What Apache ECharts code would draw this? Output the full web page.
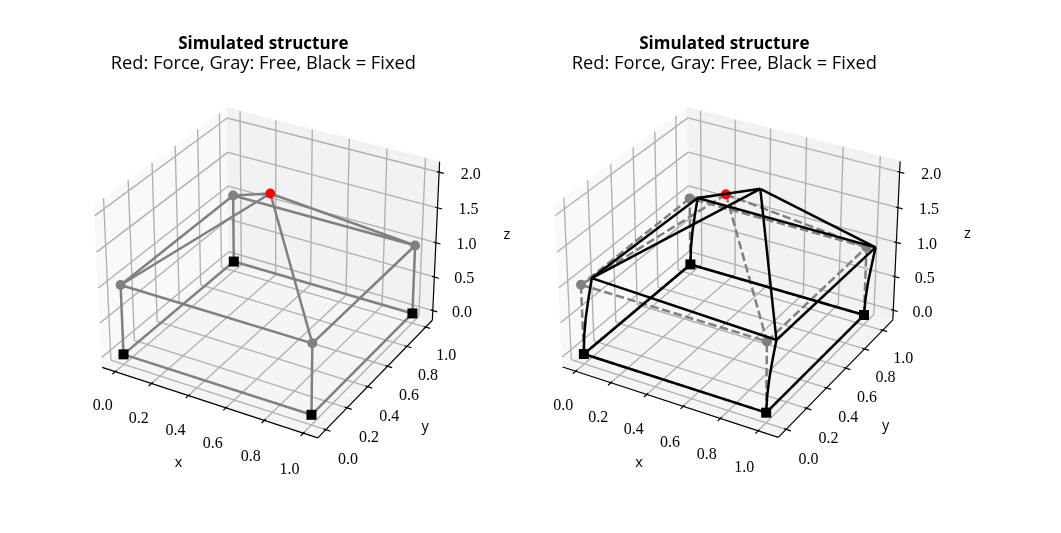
<!DOCTYPE html>
<html><head><meta charset="utf-8">
<style>html,body{margin:0;padding:0;background:#fff}#c{width:1061px;height:533px}</style>
<script src="https://cdn.jsdelivr.net/npm/echarts@6/dist/echarts.min.js"></script>
</head><body><div id="c"></div>
<script>
// ---- data ----
const xTicks=[0,0.2,0.4,0.6,0.8,1.0];
const yTicks=[0,0.2,0.4,0.6,0.8,1.0];
const zTicks=[0,0.5,1.0,1.5,2.0];
const xTickLabels=['0.0','0.2','0.4','0.6','0.8','1.0'];
const yTickLabels=['0.0','0.2','0.4','0.6','0.8','1.0'];
const zTickLabels=['0.0','0.5','1.0','1.5','2.0'];
const refX=[0,1,1,0,0,1,1,0,0.5];
const refY=[0,0,1,1,0,0,1,1,0.5];
const refZ=[0,0,0,0,1,1,1,1,2];
const defX=[0,1,1,0,0.008,1.0314,1.036,0.033,0.6126];
const defY=[0,0,1,1,0.0805,0.0317,1.026,1.024,0.6295];
const defZ=[0,0,0,0,0.995,1,0.99,1,2];
const beams=[[0,1],[1,2],[2,3],[3,0],[4,5],[5,6],[6,7],[7,4],[8,4],[8,5],[8,6],[8,7]];
const columns=[[0,4],[1,5],[2,6],[3,7]];
const colLevels=[0,0.25,0.5,0.75,1];
const colDefX=[[0,0.001,0.0025,0.005,0.008],[1,1.003,1.010,1.020,1.0314],[1,1.004,1.012,1.024,1.036],[0,0.003,0.010,0.021,0.033]];
const colDefY=[[0,0.007,0.025,0.051,0.0805],[0,0.003,0.010,0.020,0.0317],[1,1.002,1.008,1.016,1.026],[1,1.002,1.0075,1.015,1.024]];
const limitsLeft={x:[-0.073,1.073],y:[-0.073,1.073],z:[-0.146,2.146]};
const limitsRight={x:[-0.075,1.105],y:[-0.075,1.115],z:[-0.146,2.15]};
const titleText='Simulated structure';
const subtitleText='Red: Force, Gray: Free, Black = Fixed';

// ---- mplot3d style projection (elev 30, azim -60, box 4:4:3) ----
const SANS='"Open Sans", Lato, sans-serif', SERIF='"Liberation Serif", serif';
const B=[1.1905,1.1905,0.8929];
const U=[0.866025,0.5,0], V=[-0.25,0.433013,0.866025], W=[0.433013,-0.75,0.5], DIST=10;
function projector(L){
  return function(x,y,z){
    const q=[(x-L.x[0])/(L.x[1]-L.x[0])*B[0]-B[0]/2,(y-L.y[0])/(L.y[1]-L.y[0])*B[1]-B[1]/2,(z-L.z[0])/(L.z[1]-L.z[0])*B[2]-B[2]/2];
    const d=a=>a[0]*q[0]+a[1]*q[1]+a[2]*q[2];
    const k=DIST-d(W);
    return [d(U)/k,d(V)/k];
  };
}
const SCALE=2075, PX=[-0.11,0.12], PY=[-0.115,0.115];
const series=[];
function segSeries(panel,name,segs,color,w,z){
  series.push({type:'custom',name,xAxisIndex:panel,yAxisIndex:panel,coordinateSystem:'cartesian2d',clip:false,silent:true,
    encode:{x:[0,2],y:[1,3]},data:segs,z:z||2,
    renderItem:(p,api)=>{const a=api.coord([api.value(0),api.value(1)]),b=api.coord([api.value(2),api.value(3)]);
      return {type:'line',shape:{x1:a[0],y1:a[1],x2:b[0],y2:b[1]},style:{stroke:color,lineWidth:w,fill:null}};}});
}
function textSeries(panel,name,items,font){
  series.push({type:'custom',name,xAxisIndex:panel,yAxisIndex:panel,coordinateSystem:'cartesian2d',clip:false,silent:true,
    encode:{x:0,y:1},data:items.map(t=>[t.p[0],t.p[1]]),z:5,
    renderItem:(p,api)=>{const a=api.coord([api.value(0),api.value(1)]),t=items[p.dataIndex];
      return {type:'text',x:a[0]+t.dx,y:a[1]+t.dy,style:{text:t.s,font,fill:'#000',textAlign:'center',textVerticalAlign:'middle'}};}});
}
function drawAxes(panel,L){
  const P=projector(L), X=L.x,Y=L.y,Z=L.z;
  const panes=[
    {c:[[X[0],Y[0],Z[0]],[X[0],Y[1],Z[0]],[X[0],Y[1],Z[1]],[X[0],Y[0],Z[1]]],f:'#f9f9f9'},
    {c:[[X[0],Y[1],Z[0]],[X[1],Y[1],Z[0]],[X[1],Y[1],Z[1]],[X[0],Y[1],Z[1]]],f:'#f2f2f2'},
    {c:[[X[0],Y[0],Z[0]],[X[1],Y[0],Z[0]],[X[1],Y[1],Z[0]],[X[0],Y[1],Z[0]]],f:'#f5f5f5'}];
  series.push({type:'custom',name:'panes',xAxisIndex:panel,yAxisIndex:panel,coordinateSystem:'cartesian2d',clip:false,silent:true,
    data:panes.map(q=>P(...q.c[0])),encode:{x:0,y:1},z:1,
    renderItem:(p,api)=>{const q=panes[p.dataIndex];
      return {type:'polygon',shape:{points:q.c.map(c=>api.coord(P(...c)))},style:{fill:q.f,stroke:q.f,lineWidth:1}};}});
  const seg=(a,b)=>[...P(...a),...P(...b)];
  const g=[];
  xTicks.forEach(x=>{g.push(seg([x,Y[0],Z[0]],[x,Y[1],Z[0]]),seg([x,Y[1],Z[0]],[x,Y[1],Z[1]]));});
  yTicks.forEach(y=>{g.push(seg([X[0],y,Z[0]],[X[1],y,Z[0]]),seg([X[0],y,Z[0]],[X[0],y,Z[1]]));});
  zTicks.forEach(z=>{g.push(seg([X[0],Y[0],z],[X[0],Y[1],z]),seg([X[0],Y[1],z],[X[1],Y[1],z]));});
  segSeries(panel,'grid',g,'#b0b0b0',1.35,2);
  const rx=X[1]-X[0],ry=Y[1]-Y[0];
  const t=[seg([X[0],Y[0],Z[0]],[X[1],Y[0],Z[0]]),seg([X[1],Y[0],Z[0]],[X[1],Y[1],Z[0]]),seg([X[1],Y[1],Z[0]],[X[1],Y[1],Z[1]])];
  xTicks.forEach(x=>t.push(seg([x,Y[0]-0.021*ry,Z[0]],[x,Y[0]+0.01*ry,Z[0]])));
  yTicks.forEach(y=>t.push(seg([X[1]+0.021*rx,y,Z[0]],[X[1]-0.01*rx,y,Z[0]])));
  zTicks.forEach(z=>t.push(seg([X[1]+0.021*rx,Y[1],z],[X[1]-0.01*rx,Y[1],z])));
  segSeries(panel,'axes',t,'#000',1.2,3);
  const lab=[];
  xTicks.forEach((x,i)=>lab.push({p:P(x,Y[0],Z[0]),s:xTickLabels[i],dx:-12.4-1.5*i/5,dy:34.5+2.5*i/5}));
  yTicks.forEach((y,i)=>lab.push({p:P(X[1],y,Z[0]),s:yTickLabels[i],dx:22.3-1.6*i/5,dy:30.4-1.6*i/5}));
  zTicks.forEach((z,i)=>lab.push({p:P(X[1],Y[1],z),s:zTickLabels[i],dx:29.3+2.4*i/4,dy:2.3}));
  textSeries(panel,'ticklabels',lab,'16px '+SERIF);
  textSeries(panel,'axislabels',[
    {p:P((X[0]+X[1])/2,Y[0],Z[0]),s:'x',dx:-28.5,dy:61.5},
    {p:P(X[1],(Y[0]+Y[1])/2,Z[0]),s:'y',dx:47.5,dy:50},
    {p:P(X[1],Y[1],(Z[0]+Z[1])/2),s:'z',dx:71,dy:-8}],'14.5px '+SANS);
}
function lineSeries(panel,name,pts,color,type,z,w){
  series.push({type:'line',name,xAxisIndex:panel,yAxisIndex:panel,data:pts,symbol:'none',clip:false,silent:true,z,
    lineStyle:{color,width:w,type,cap:'butt',join:'round'}});
}
function nodeSeries(panel,name,pts,color,symbol,size,z){
  series.push({type:'scatter',name,xAxisIndex:panel,yAxisIndex:panel,data:pts,symbol,symbolSize:size,clip:false,silent:true,z,
    itemStyle:{color,opacity:1}});
}
function drawRef(panel,L,dash){
  const P=projector(L), N=i=>P(refX[i],refY[i],refZ[i]);
  const t=dash?[8.5,3.6]:'solid';
  beams.concat(columns).forEach((b,i)=>lineSeries(panel,'ref'+i,[N(b[0]),N(b[1])],'#808080',t,6,2.5));
  nodeSeries(panel,'free',[4,5,6,7].map(N),'#808080','circle',10,7);
  nodeSeries(panel,'force',[N(8)],'#ff0000','circle',10,7);
  if(!dash) nodeSeries(panel,'fixed',[0,1,2,3].map(N),'#000','rect',10,8);
}
function drawDef(panel,L){
  const P=projector(L), N=i=>P(defX[i],defY[i],defZ[i]);
  beams.forEach((b,i)=>lineSeries(panel,'def'+i,[N(b[0]),N(b[1])],'#000','solid',8,2.5));
  columns.forEach((c,i)=>lineSeries(panel,'col'+i,colLevels.map((z,k)=>P(colDefX[i][k],colDefY[i][k],z*defZ[c[1]])),'#000','solid',8,2.5));
  nodeSeries(panel,'fixed',[0,1,2,3].map(N),'#000','rect',10,9);
}
drawAxes(0,limitsLeft); drawRef(0,limitsLeft,false);
drawAxes(1,limitsRight); drawRef(1,limitsRight,true); drawDef(1,limitsRight);

const centers=[[270.3,264.9],[730.8,264.5]];
const grids=centers.map(c=>({left:c[0]+PX[0]*SCALE,top:c[1]-PY[1]*SCALE,width:(PX[1]-PX[0])*SCALE,height:(PY[1]-PY[0])*SCALE}));
const ax=i=>({type:'value',gridIndex:i,min:PX[0],max:PX[1],show:false});
const ay=i=>({type:'value',gridIndex:i,min:PY[0],max:PY[1],show:false});
const titles=[263.3,724.3].map(cx=>({text:titleText,subtext:subtitleText,left:cx,top:34,textAlign:'center',itemGap:0,padding:0,
  textStyle:{fontFamily:SANS,fontWeight:'bold',fontSize:17,color:'#000',lineHeight:20},
  subtextStyle:{fontFamily:SANS,fontSize:18.3,color:'#000',lineHeight:20}}));
const chart=echarts.init(document.getElementById('c'),null,{renderer:'canvas'});
chart.setOption({animation:false,backgroundColor:'#fff',title:titles,grid:grids,xAxis:[ax(0),ax(1)],yAxis:[ay(0),ay(1)],series});
</script></body></html>
